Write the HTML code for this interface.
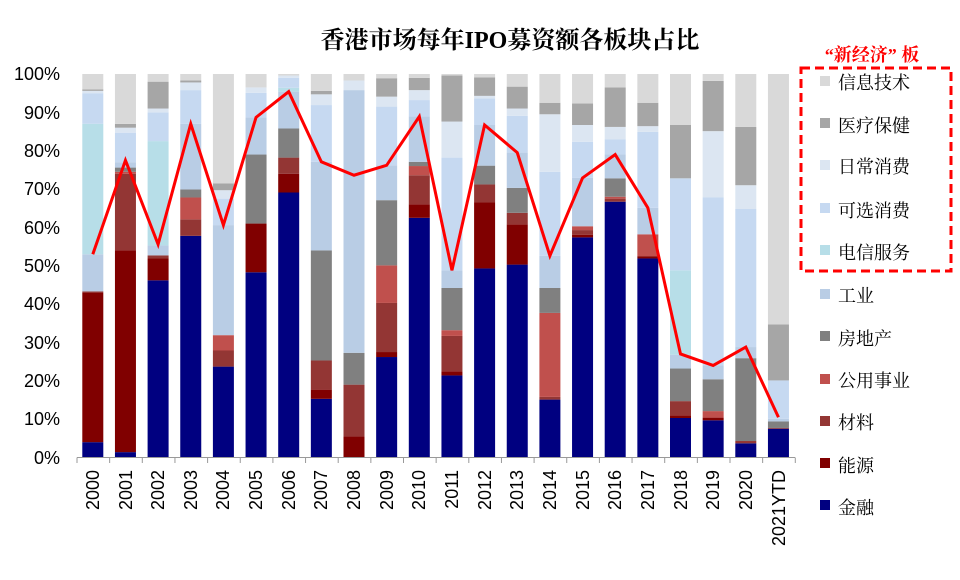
<!DOCTYPE html>
<html><head><meta charset="utf-8"><style>
body{margin:0;background:#fff;}
svg text{font-family:"Liberation Sans","Noto Sans CJK SC",sans-serif;}
svg text.sf{font-family:"Liberation Serif","Noto Serif CJK SC",serif;}
</style></head><body>
<svg id="s" width="960" height="575" viewBox="0 0 960 575" xmlns="http://www.w3.org/2000/svg">
<text class="sf" x="510" y="48" text-anchor="middle" font-size="24" font-weight="bold" fill="#000">香港市场每年IPO募资额各板块占比</text>
<g font-size="18" fill="#000" text-anchor="end">
<text x="60" y="80">100%</text><text x="60" y="119">90%</text><text x="60" y="157">80%</text><text x="60" y="195">70%</text><text x="60" y="234">60%</text><text x="60" y="272">50%</text><text x="60" y="310">40%</text><text x="60" y="349">30%</text><text x="60" y="387">20%</text><text x="60" y="425">10%</text><text x="60" y="464">0%</text>
</g>
<g id="bars"></g>
<line x1="77" y1="457.5" x2="795" y2="457.5" stroke="#999" stroke-width="1"/>
<g id="ticks" stroke="#999"></g>
<g font-size="18" fill="#000" text-anchor="end" id="xl">
<text transform="translate(99,470) rotate(-90)">2000</text>
<text transform="translate(132,470) rotate(-90)">2001</text>
<text transform="translate(164,470) rotate(-90)">2002</text>
<text transform="translate(197,470) rotate(-90)">2003</text>
<text transform="translate(229,470) rotate(-90)">2004</text>
<text transform="translate(262,470) rotate(-90)">2005</text>
<text transform="translate(295,470) rotate(-90)">2006</text>
<text transform="translate(327,470) rotate(-90)">2007</text>
<text transform="translate(360,470) rotate(-90)">2008</text>
<text transform="translate(393,470) rotate(-90)">2009</text>
<text transform="translate(425,470) rotate(-90)">2010</text>
<text transform="translate(458,470) rotate(-90)">2011</text>
<text transform="translate(491,470) rotate(-90)">2012</text>
<text transform="translate(523,470) rotate(-90)">2013</text>
<text transform="translate(556,470) rotate(-90)">2014</text>
<text transform="translate(589,470) rotate(-90)">2015</text>
<text transform="translate(621,470) rotate(-90)">2016</text>
<text transform="translate(654,470) rotate(-90)">2017</text>
<text transform="translate(687,470) rotate(-90)">2018</text>
<text transform="translate(719,470) rotate(-90)">2019</text>
<text transform="translate(752,470) rotate(-90)">2020</text>
<text transform="translate(785,470) rotate(-90)">2021YTD</text>
</g>
<polyline id="line" fill="none" stroke="#ff0000" stroke-width="3" stroke-linejoin="miter"/>
<text class="sf" x="872" y="61" text-anchor="middle" font-size="18" font-weight="bold" fill="#ff0000">“新经济” 板</text>
<rect x="801" y="68" width="150" height="203" fill="none" stroke="#ff0000" stroke-width="3" stroke-dasharray="9,5"/>
<g font-size="18" fill="#000">
<rect x="820" y="76" width="10" height="10" fill="#D9D9D9"/><text class="sf" x="838" y="89">信息技术</text>
<rect x="820" y="118" width="10" height="10" fill="#A6A6A6"/><text class="sf" x="838" y="132">医疗保健</text>
<rect x="820" y="160" width="10" height="10" fill="#DCE6F2"/><text class="sf" x="838" y="173">日常消费</text>
<rect x="820" y="203" width="10" height="10" fill="#C6D9F1"/><text class="sf" x="838" y="217">可选消费</text>
<rect x="820" y="245" width="10" height="10" fill="#B7DEE8"/><text class="sf" x="838" y="259">电信服务</text>
<rect x="820" y="289" width="10" height="10" fill="#B9CDE5"/><text class="sf" x="838" y="302">工业</text>
<rect x="820" y="331" width="10" height="10" fill="#808080"/><text class="sf" x="838" y="345">房地产</text>
<rect x="820" y="374" width="10" height="10" fill="#C0504D"/><text class="sf" x="838" y="387">公用事业</text>
<rect x="820" y="416" width="10" height="10" fill="#933634"/><text class="sf" x="838" y="429">材料</text>
<rect x="820" y="458" width="10" height="10" fill="#800000"/><text class="sf" x="838" y="472">能源</text>
<rect x="820" y="500" width="10" height="10" fill="#000080"/><text class="sf" x="838" y="514">金融</text>
</g>
</svg>
<script>
var C=["#000080","#800000","#933634","#C0504D","#808080","#B9CDE5","#B7DEE8","#C6D9F1","#DCE6F2","#A6A6A6","#D9D9D9"];
var D=[
[4,43,43.3,43.3,43.3,53,87,95,95.6,96,100],
[1.4,54,74,74.5,75.6,77,77,84.7,86,87,100],
[46.2,51.9,52.7,52.7,52.7,55.3,82.5,90,91,98,100],
[57.8,57.8,62.1,67.8,69.9,87,87,95.8,97.8,98.3,100],
[23.7,23.7,27.9,31.9,31.9,60.6,60.6,67.5,69.7,71.5,100],
[48.3,61,61,61,79,88.7,88.7,95.1,96.5,96.5,100],
[69.1,74,78.2,78.2,85.8,95.4,96.4,99,99.6,99.6,100],
[15.3,17.7,25.3,25.3,54,77.1,77.1,91.9,94.7,95.6,100],
[0,5.5,19,19,27.3,95.8,95.8,95.8,98.3,98.3,100],
[26.2,27.5,40.3,50.1,67.1,76.2,76.2,91.5,94.1,98.9,100],
[62.5,66,73.6,76,77.1,88.9,88.9,93.2,95.8,99,100],
[21.4,22.5,31.7,33.2,44.2,48.8,48.8,78.2,87.6,99.6,100],
[49.3,66.5,71.2,71.2,76.1,86.7,86.7,93.6,94.3,99.1,100],
[50.3,60.8,63.8,63.8,70.3,79.5,79.5,89.1,91,96.7,100],
[15.1,15.1,15.8,37.7,44.2,52.6,52.6,74.5,89.5,92.5,100],
[57.4,58.1,59.3,60.3,60.3,72.9,72.9,82.3,86.7,92.3,100],
[66.7,66.7,67.5,68,72.8,79,79,83,86.2,96.5,100],
[51.9,52.5,52.5,58.2,58.2,65.1,65.1,84.9,86.4,92.5,100],
[10.3,11,14.7,14.7,23.2,26.8,48.8,72.8,72.8,86.7,100],
[9.7,10.4,10.4,12.1,20.4,24,24,67.8,85.1,98.2,100],
[3.7,3.7,4.3,4.3,25.9,28.8,28.8,64.8,71,86.2,100],
[7.5,7.5,7.7,7.7,9.4,10.1,10.1,20.1,20.1,34.7,100]];
var L=[53,77.5,55.6,87,60.6,88.7,95.4,77.1,73.6,76.2,88.9,48.8,86.7,79.5,52.6,72.9,79,65.1,27,24,28.8,10.5];
var Y=function(p){return 457.5-p*3.835;};
var ns="http://www.w3.org/2000/svg",g=document.getElementById("bars"),t=document.getElementById("ticks"),pts=[];
for(var i=0;i<22;i++){var cx=92.8+i*32.65,prev=0;
 for(var k=0;k<11;k++){var v=D[i][k];if(v>prev){var r=document.createElementNS(ns,"rect");
  r.setAttribute("x",cx-10.5);r.setAttribute("width",21);r.setAttribute("y",Y(v));r.setAttribute("height",Y(prev)-Y(v));
  r.setAttribute("fill",C[k]);g.appendChild(r);}prev=Math.max(prev,v);}
 pts.push(cx+","+Y(L[i]));}
for(var j=0;j<=22;j++){var x=77+j*32.65,l=document.createElementNS(ns,"line");
 l.setAttribute("x1",x);l.setAttribute("x2",x);l.setAttribute("y1",457.5);l.setAttribute("y2",463);t.appendChild(l);}
document.getElementById("line").setAttribute("points",pts.join(" "));
</script>
</body></html>
